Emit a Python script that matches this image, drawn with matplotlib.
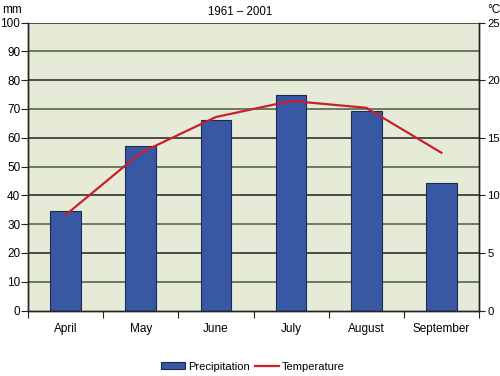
import numpy as np
import matplotlib
matplotlib.use("Agg")
import matplotlib.pyplot as plt
from matplotlib.patches import Patch
from matplotlib.lines import Line2D

plt.rcParams['font.family'] = ['Liberation Sans', 'DejaVu Sans']

# data
months = ['April', 'May', 'June', 'July', 'August', 'September']
precip = [34.6, 57.3, 66.0, 75.0, 69.3, 44.2]   # mm
temp = [8.3, 13.7, 16.8, 18.2, 17.6, 13.7]      # degC

bar_col = '#3858a3'
line_col = '#c8202c'
bg_col = '#e6ebd7'

fig = plt.figure(figsize=(5, 3.76), dpi=100)
ax = fig.add_axes([0.056, 0.174, 0.902, 0.766])
ax.set_facecolor(bg_col)

x = np.arange(len(months))
ax.set_xlim(-0.5, 5.5)
ax.set_ylim(0, 100)

# grid lines
for v in range(10, 101, 10):
    c = '#222222' if v % 20 == 0 else '#4d5a40'
    ax.axhline(v, color=c, lw=1.1, zorder=1)

ax.bar(x, precip, width=0.41, color=bar_col, edgecolor='#1c2a55', lw=0.8, zorder=2)

ax2 = ax.twinx()
ax2.set_ylim(0, 25)
ax2.plot(x, temp, color=line_col, lw=1.6, zorder=3)

# axes styling
ax.set_yticks(range(0, 101, 10))
ax.set_xticks(np.arange(-0.5, 6, 1))
ax.set_xticklabels([])
ax.set_xticks(x, minor=True)
ax.set_xticklabels(months, minor=True)
ax.tick_params(axis='x', which='major', length=5, direction='out', color='#222222')
ax.tick_params(axis='x', which='minor', length=0, pad=9, labelsize=8.5)
ax.tick_params(axis='y', length=5, direction='out', labelsize=8.5, pad=0.5, color='#222222')
ax2.set_yticks(range(0, 26, 5))
ax2.tick_params(axis='y', length=4, direction='out', labelsize=8.2, pad=2, color='#222222')

for a in (ax, ax2):
    a.spines['top'].set_visible(False)
    for s in ('left', 'right', 'bottom'):
        a.spines[s].set_color('#222222')
        a.spines[s].set_linewidth(1.0)

fig.text(0.004, 0.99, 'mm', fontsize=8.5, va='top', ha='left')
fig.text(0.987, 0.99, '°C', fontsize=8.5, va='top', ha='center')
fig.text(0.48, 0.985, '1961 – 2001', fontsize=8.3, va='top', ha='center')

handles = [Patch(facecolor=bar_col, edgecolor='#1c2a55', lw=0.8),
           Line2D([0], [0], color=line_col, lw=1.6)]
fig.legend(handles, ['Precipitation', 'Temperature'], loc='center',
           bbox_to_anchor=(0.506, 0.025), ncol=2, frameon=False, fontsize=8,
           handlelength=2.1, handleheight=0.6, columnspacing=0.5, handletextpad=0.3)

fig.savefig('out.png', dpi=100)
